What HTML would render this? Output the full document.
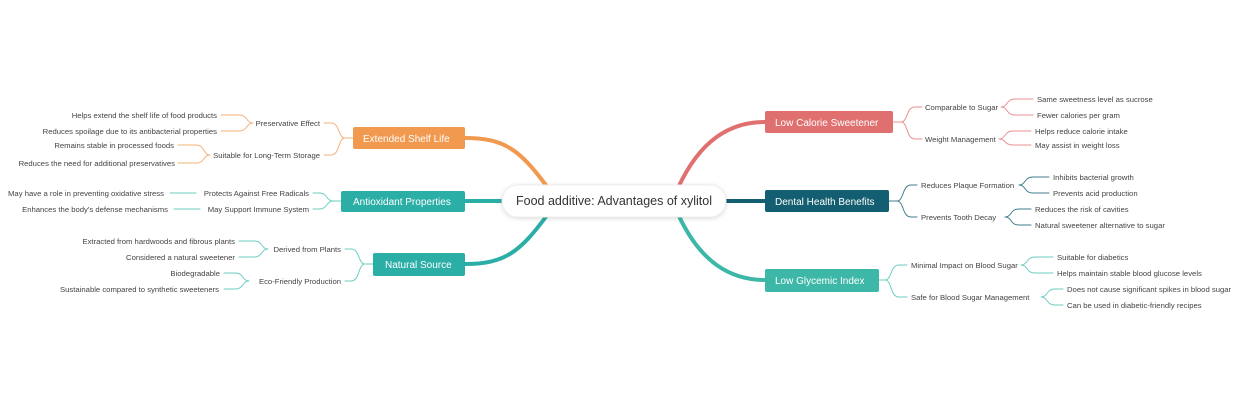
<!DOCTYPE html>
<html><head><meta charset="utf-8"><style>
body{margin:0;width:1240px;height:400px;background:#fff;overflow:hidden;font-family:"Liberation Sans",sans-serif}
svg{position:absolute;left:0;top:0}
text{font-family:"Liberation Sans",sans-serif;font-size:7.7px;fill:#444}
.n{font-size:10px;fill:#fff}
.r{text-anchor:end}
</style></head><body>
<svg width="1240" height="400" viewBox="0 0 1240 400">
<defs><filter id="sh" x="-20%" y="-50%" width="140%" height="200%"><feDropShadow dx="0" dy="1" stdDeviation="2" flood-color="#000" flood-opacity="0.15"/></filter></defs>
<g fill="none" stroke-linecap="round">
<path d="M548 188 C520 150,505 138,465 138" stroke="#f0994f" stroke-width="4"/>
<path d="M548 214 C520 252,505 264,465 264" stroke="#2baea6" stroke-width="4"/>
<path d="M465 201 L505 201" stroke="#2baea6" stroke-width="4"/>
<path d="M678 188 C700 140,730 122,765 122" stroke="#e07070" stroke-width="4"/>
<path d="M678 214 C700 262,730 280,765 280" stroke="#3db7a7" stroke-width="4"/>
<path d="M722 201 L765 201" stroke="#135e70" stroke-width="4"/>
<g stroke="#e89090" stroke-width="1">
<path d="M893 122 H901 C908 122,906 107,915 107 H922 M901 122 C908 122,906 139,915 139 H922"/>
<path d="M1001 107 C1008 107,1006 99,1015 99 H1033 M1001 107 C1008 107,1006 115,1015 115 H1033"/>
<path d="M999 139 C1006 139,1004 131,1013 131 H1031 M999 139 C1006 139,1004 145,1013 145 H1031"/>
</g>
<g stroke="#3f7d8c" stroke-width="1">
<path d="M889 201 H897 C904 201,902 185,911 185 H917 M897 201 C904 201,902 217,911 217 H917"/>
<path d="M1019 185 C1026 185,1024 177,1033 177 H1049 M1019 185 C1026 185,1024 193,1033 193 H1049"/>
<path d="M1005 217 C1012 217,1010 209,1019 209 H1031 M1005 217 C1012 217,1010 225,1019 225 H1031"/>
</g>
<g stroke="#6ccdc2" stroke-width="1">
<path d="M879 280 H885 C892 280,890 265,899 265 H907 M885 280 C892 280,890 297,899 297 H907"/>
<path d="M1021 265 C1028 265,1026 257,1035 257 H1053 M1021 265 C1028 265,1026 273,1035 273 H1053"/>
<path d="M1041 297 C1048 297,1046 289,1055 289 H1063 M1041 297 C1048 297,1046 305,1055 305 H1063"/>
<path d="M341 201 H333 C326 201,328 193,319 193 H313 M333 201 C326 201,328 209,319 209 H313"/>
<path d="M170 193 H196 M174 209 H200"/>
<path d="M373 264 H365 C358 264,360 249,351 249 H345 M365 264 C358 264,360 281,351 281 H345"/>
<path d="M268 249 C261 249,263 241,254 241 H239 M268 249 C261 249,263 257,254 257 H239"/>
<path d="M249 281 C242 281,244 273,235 273 H224 M249 281 C242 281,244 289,235 289 H224"/>
</g>
<g stroke="#f4b07a" stroke-width="1">
<path d="M353 138 H345 C338 138,340 123,331 123 H324 M345 138 C338 138,340 155,331 155 H324"/>
<path d="M253 123 C246 123,248 115,239 115 H221 M253 123 C246 123,248 131,239 131 H221"/>
<path d="M210 155 C203 155,205 145,196 145 H178 M210 155 C203 155,205 163,196 163 H178"/>
</g>
</g>
<rect x="502" y="185" width="224" height="32" rx="16" fill="#fff" stroke="#eee" filter="url(#sh)"/>
<text x="614" y="205" text-anchor="middle" style="font-size:12.5px;fill:#333">Food additive: Advantages of xylitol</text>
<rect x="765" y="111" width="128" height="22" rx="2" fill="#e07070"/><text class="n" x="775" y="126">Low Calorie Sweetener</text>
<rect x="765" y="190" width="124" height="22" rx="2" fill="#135e70"/><text class="n" x="775" y="205">Dental Health Benefits</text>
<rect x="765" y="269" width="114" height="23" rx="2" fill="#3db7a7"/><text class="n" x="775" y="284">Low Glycemic Index</text>
<rect x="353" y="127" width="112" height="22" rx="2" fill="#f0994f"/><text class="n" x="363" y="142">Extended Shelf Life</text>
<rect x="341" y="191" width="124" height="21" rx="2" fill="#2baea6"/><text class="n" x="353" y="205">Antioxidant Properties</text>
<rect x="373" y="253" width="92" height="23" rx="2" fill="#2baea6"/><text class="n" x="385" y="268">Natural Source</text>
<text x="925" y="110">Comparable to Sugar</text>
<text x="925" y="142">Weight Management</text>
<text x="1037" y="102">Same sweetness level as sucrose</text>
<text x="1037" y="118">Fewer calories per gram</text>
<text x="1035" y="134">Helps reduce calorie intake</text>
<text x="1035" y="148">May assist in weight loss</text>
<text x="921" y="188">Reduces Plaque Formation</text>
<text x="921" y="220">Prevents Tooth Decay</text>
<text x="1053" y="180">Inhibits bacterial growth</text>
<text x="1053" y="196">Prevents acid production</text>
<text x="1035" y="212">Reduces the risk of cavities</text>
<text x="1035" y="228">Natural sweetener alternative to sugar</text>
<text x="911" y="268">Minimal Impact on Blood Sugar</text>
<text x="911" y="300">Safe for Blood Sugar Management</text>
<text x="1057" y="260">Suitable for diabetics</text>
<text x="1057" y="276">Helps maintain stable blood glucose levels</text>
<text x="1067" y="292">Does not cause significant spikes in blood sugar</text>
<text x="1067" y="308">Can be used in diabetic-friendly recipes</text>
<text class="r" x="320" y="126">Preservative Effect</text>
<text class="r" x="320" y="158">Suitable for Long-Term Storage</text>
<text class="r" x="217" y="118">Helps extend the shelf life of food products</text>
<text class="r" x="217" y="134">Reduces spoilage due to its antibacterial properties</text>
<text class="r" x="174" y="148">Remains stable in processed foods</text>
<text class="r" x="175" y="166">Reduces the need for additional preservatives</text>
<text class="r" x="309" y="196">Protects Against Free Radicals</text>
<text class="r" x="309" y="212">May Support Immune System</text>
<text class="r" x="164" y="196">May have a role in preventing oxidative stress</text>
<text class="r" x="168" y="212">Enhances the body's defense mechanisms</text>
<text class="r" x="341" y="252">Derived from Plants</text>
<text class="r" x="341" y="284">Eco-Friendly Production</text>
<text class="r" x="235" y="244">Extracted from hardwoods and fibrous plants</text>
<text class="r" x="235" y="260">Considered a natural sweetener</text>
<text class="r" x="220" y="276">Biodegradable</text>
<text class="r" x="219" y="292">Sustainable compared to synthetic sweeteners</text>
</svg>
</body></html>
